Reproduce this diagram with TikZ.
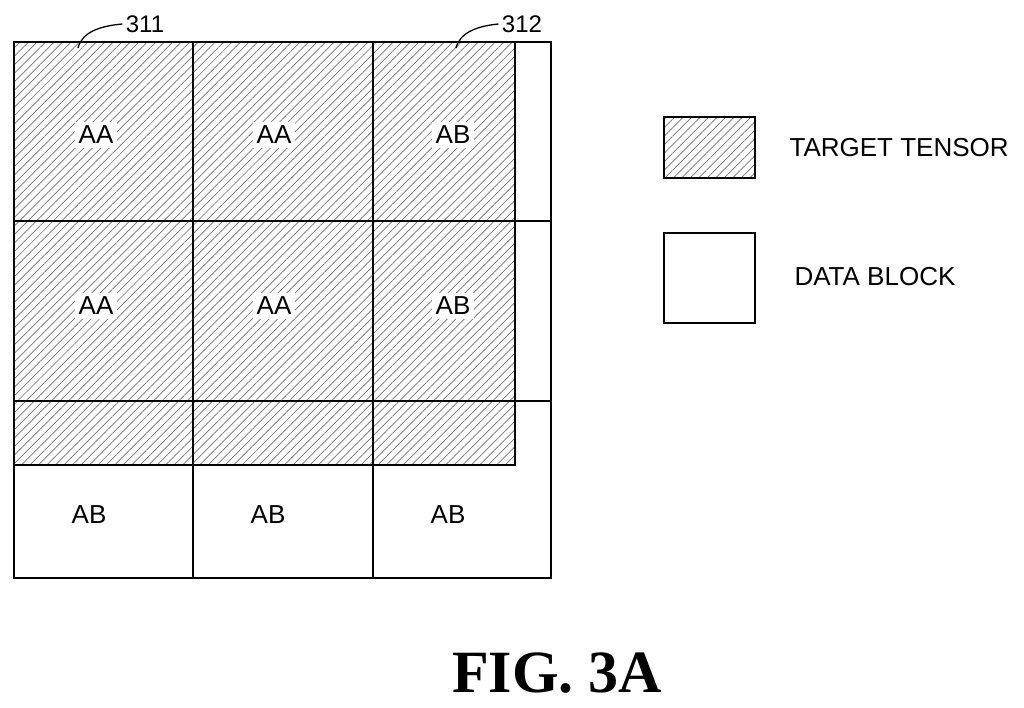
\documentclass[tikz,border=0pt]{standalone}
\usepackage{fontspec}
\setmainfont{Liberation Serif}
\setsansfont{Liberation Sans}
\usetikzlibrary{patterns.meta}
\begin{document}
\begin{tikzpicture}[x=1pt,y=-1pt,
  hatch/.style={pattern={Lines[angle=45,distance=6pt,line width=0.7pt]},pattern color=black!55},
  thick line/.style={line width=2.2pt},
  thin line/.style={line width=1.6pt},
  lab/.style={font=\sffamily\fontsize{26}{26}\selectfont,fill=white,inner sep=4pt},
  txt/.style={font=\sffamily\fontsize{26}{26}\selectfont,anchor=west},
  ref/.style={font=\sffamily\fontsize{24}{24}\selectfont}]
\useasboundingbox (0,0) rectangle (1024,707);
% hatched target tensor
\fill[hatch] (14,42) rectangle (515,465);
% grid
\draw[thin line] (14,42) rectangle (551,578);
\draw[thin line] (193,42) -- (193,578);
\draw[thin line] (373,42) -- (373,578);
\draw[thin line] (14,221) -- (551,221);
\draw[thick line] (14,401) -- (551,401);
\draw[thick line] (14,42) rectangle (515,465);
% labels
\node[lab] (a11) at (96,135) {AA};
\node[lab] (a12) at (274,135) {AA};
\node[lab] (a13) at (453,135) {AB};
\node[lab] (a21) at (96,306) {AA};
\node[lab] (a22) at (274,306) {AA};
\node[lab] (a23) at (453,306) {AB};
\node[lab,fill=none] (a31) at (89,515) {AB};
\node[lab,fill=none] (a32) at (268,515) {AB};
\node[lab,fill=none] (a33) at (448,515) {AB};
% reference numerals
\node[ref] (r311) at (145,24) {311};
\node[ref] (r312) at (522,24) {312};
\coordinate (p311) at (78,48);
\coordinate (p312) at (456,48);
\draw[line width=1.3pt] (p311) .. controls (82,32) and (100,26) .. (r311.west);
\draw[line width=1.3pt] (p312) .. controls (460,32) and (478,26) .. (r312.west);
% legend
\draw[hatch,line width=1.5pt] (664,117) rectangle (755,178);
\draw[line width=1.5pt] (664,233) rectangle (755,323);
\node[txt] (t1) at (786,148) {TARGET TENSOR};
\node[txt] (t2) at (791,277) {DATA BLOCK};
\node[font=\bfseries\fontsize{60}{60}\selectfont] (fig) at (557,673) {FIG. 3A};
\end{tikzpicture}
\end{document}
